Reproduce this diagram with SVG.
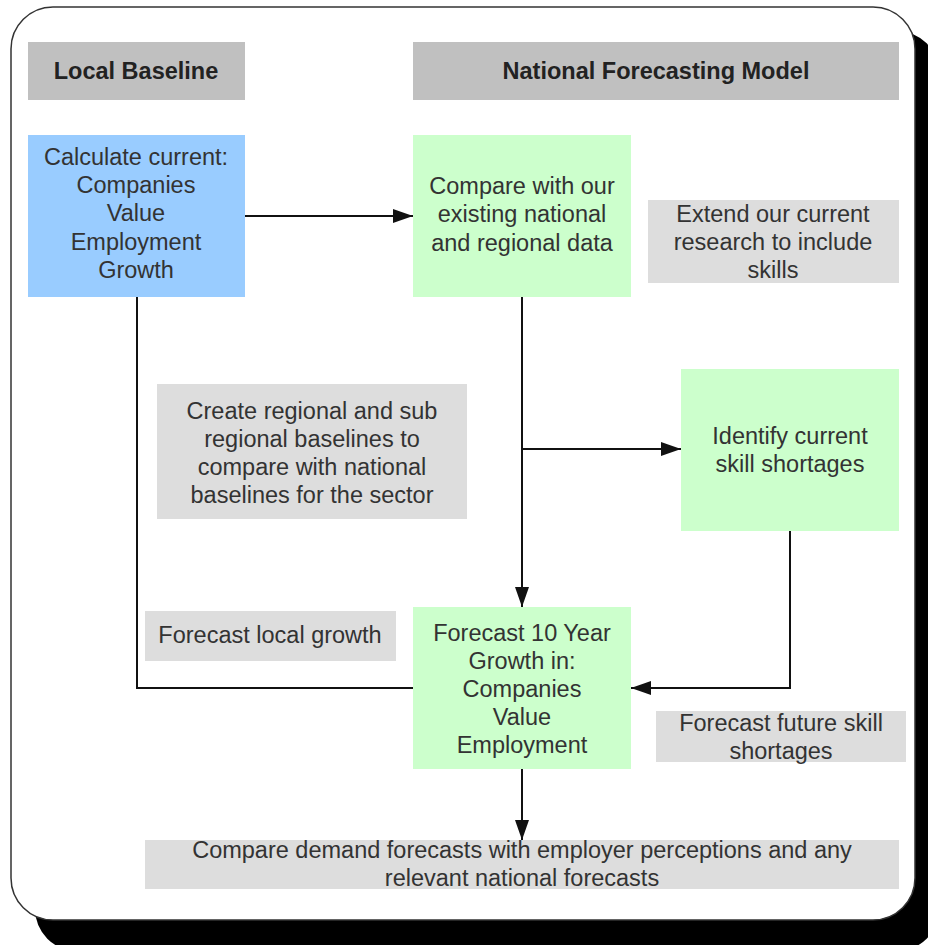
<svg xmlns="http://www.w3.org/2000/svg" width="928" height="945" viewBox="0 0 928 945">
<style>
  .t { font-family: "Liberation Sans", Arial, sans-serif; font-size: 23.5px; fill: #333; text-anchor: middle; }
  .h { font-family: "Liberation Sans", Arial, sans-serif; font-size: 23.5px; font-weight: bold; fill: #222; text-anchor: middle; }
  .hdr { fill: #c0c0c0; }
  .note { fill: #dddddd; }
  .green { fill: #ccffcc; }
  .blue { fill: #99ccff; }
  .conn { fill: none; stroke: #111; stroke-width: 2; }
</style>
<defs>
  <marker id="arr" viewBox="0 0 20 14" refX="20" refY="7" markerWidth="20" markerHeight="14" markerUnits="userSpaceOnUse" orient="auto">
    <path d="M0,0 L20,7 L0,14 Z" fill="#111"/>
  </marker>
</defs>
<rect width="928" height="945" fill="#fff"/>
<g id="frame">
  <rect x="35" y="31" width="904" height="920" rx="42" fill="#000"/>
  <rect x="11" y="7" width="904" height="913" rx="42" fill="#fff" stroke="#333" stroke-width="1.5"/>
</g>
<g id="hdr-local">
  <rect class="hdr" x="28" y="42" width="217" height="58"/>
  <text class="h" x="136" y="79">Local Baseline</text>
</g>
<g id="hdr-national">
  <rect class="hdr" x="413" y="42" width="486" height="58"/>
  <text class="h" x="656" y="79">National Forecasting Model</text>
</g>
<g id="calculate">
  <rect class="blue" x="28" y="135" width="217" height="162"/>
  <text class="t" x="136" y="165">Calculate current:</text>
  <text class="t" x="136" y="193">Companies</text>
  <text class="t" x="136" y="221">Value</text>
  <text class="t" x="136" y="250">Employment</text>
  <text class="t" x="136" y="278">Growth</text>
</g>
<g id="compare">
  <rect class="green" x="413" y="135" width="218" height="162"/>
  <text class="t" x="522" y="194">Compare with our</text>
  <text class="t" x="522" y="222">existing national</text>
  <text class="t" x="522" y="251">and regional data</text>
</g>
<g id="extend">
  <rect class="note" x="648" y="200" width="251" height="83"/>
  <text class="t" x="773" y="222">Extend our current</text>
  <text class="t" x="773" y="250">research to include</text>
  <text class="t" x="773" y="278">skills</text>
</g>
<g id="create">
  <rect class="note" x="157" y="384" width="310" height="135"/>
  <text class="t" x="312" y="419">Create regional and sub</text>
  <text class="t" x="312" y="447">regional baselines to</text>
  <text class="t" x="312" y="475">compare with national</text>
  <text class="t" x="312" y="503">baselines for the sector</text>
</g>
<g id="identify">
  <rect class="green" x="681" y="369" width="218" height="162"/>
  <text class="t" x="790" y="444">Identify current</text>
  <text class="t" x="790" y="472">skill shortages</text>
</g>
<g id="local-growth">
  <rect class="note" x="145" y="611" width="251" height="50"/>
  <text class="t" x="270" y="643">Forecast local growth</text>
</g>
<g id="forecast10">
  <rect class="green" x="413" y="607" width="218" height="162"/>
  <text class="t" x="522" y="641">Forecast 10 Year</text>
  <text class="t" x="522" y="669">Growth in:</text>
  <text class="t" x="522" y="697">Companies</text>
  <text class="t" x="522" y="725">Value</text>
  <text class="t" x="522" y="753">Employment</text>
</g>
<g id="future-skill">
  <rect class="note" x="656" y="711" width="250" height="51"/>
  <text class="t" x="781" y="731">Forecast future skill</text>
  <text class="t" x="781" y="759">shortages</text>
</g>
<g id="compare-demand">
  <rect class="note" x="145" y="840" width="754" height="49"/>
  <text class="t" x="522" y="858">Compare demand forecasts with employer perceptions and any</text>
  <text class="t" x="522" y="886">relevant national forecasts</text>
</g>
<g id="connectors">
  <path class="conn" d="M245,216 H413" marker-end="url(#arr)"/>
  <path class="conn" d="M522,297 V607" marker-end="url(#arr)"/>
  <path class="conn" d="M522,449 H681" marker-end="url(#arr)"/>
  <path class="conn" d="M790,531 V688 H631" marker-end="url(#arr)"/>
  <path class="conn" d="M137,297 V688 H413"/>
  <path class="conn" d="M522,769 V840" marker-end="url(#arr)"/>
</g>
</svg>
